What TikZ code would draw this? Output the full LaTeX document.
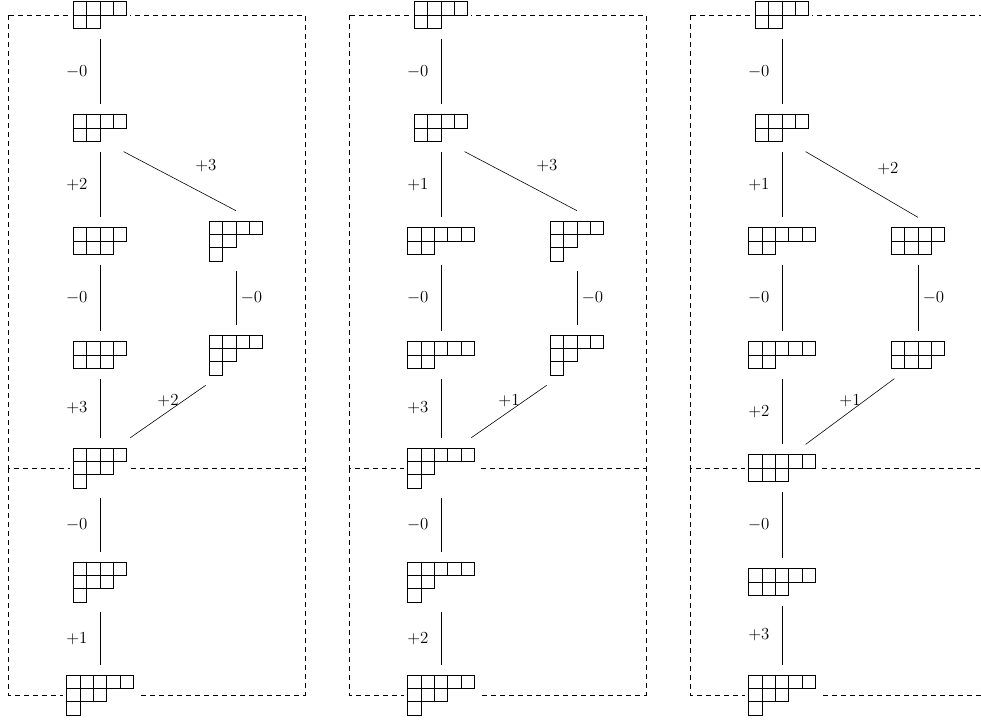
\documentclass[tikz,border=0pt]{standalone}
\usetikzlibrary{positioning}
% Young diagram from a list of row lengths
\newcommand{\ydiag}[1]{\tikz[x=0.4cm, y=-0.4cm, line width=0.5pt]{%
  \foreach \len [count=\row] in {#1} {%
    \foreach \col in {1,...,\len} {\draw (\col-1,\row-1) rectangle (\col,\row);}}}}

\begin{document}
\begin{tikzpicture}[x=0.03cm, y=-0.03cm,
  yd/.style={fill=white, inner sep=0.1cm, outer sep=0.2cm},
  frame/.style={draw, line width=0.5pt, dash pattern=on 0.15cm off 0.12cm},
  link/.style={draw, line width=0.5pt},
  lab/.style={font=\Large},
  labl/.style={lab, left=0.25cm},
  labr/.style={lab, right=0.02cm},
  labd/.style={lab, above right=0.16cm and 0.34cm},
  labu/.style={lab, above=0.02cm},
]
\useasboundingbox (0,0) rectangle (981,722);
\clip (0,0) rectangle (981,722);
% ---- dashed frames of the three panels
\draw[frame] (8,15) rectangle (305,468);
\draw[frame] (8,468) -- (8,695) -- (305,695) -- (305,468);
\draw[frame] (349,15) rectangle (646,468);
\draw[frame] (349,468) -- (349,695) -- (646,695) -- (646,468);
\draw[frame] (690,15) rectangle (987,468);
\draw[frame] (690,468) -- (690,695) -- (987,695) -- (987,468);
% ---- panel a
\node[yd] (a_top) at (100,15) {\ydiag{4,2}};
\node[yd] (a_mid) at (100,128) {\ydiag{4,2}};
\node[yd] (a_l2) at (100,241) {\ydiag{4,3}};
\node[yd] (a_r2) at (236,241) {\ydiag{4,2,1}};
\node[yd] (a_l3) at (100,355) {\ydiag{4,3}};
\node[yd] (a_r3) at (236,355) {\ydiag{4,2,1}};
\node[yd] (a_join) at (100,468) {\ydiag{4,3,1}};
\node[yd] (a_low) at (100,582) {\ydiag{4,3,1}};
\node[yd] (a_bot) at (100,695) {\ydiag{5,3,1}};
\draw[link] (a_top) -- node[labl] {$-0$} (a_mid);
\draw[link] (a_mid) -- node[labl] {$+2$} (a_l2);
\draw[link] (a_mid.-45) -- node[labd] {$+3$} (a_r2.north);
\draw[link] (a_l2) -- node[labl] {$-0$} (a_l3);
\draw[link] (a_r2) -- node[labr] {$-0$} (a_r3);
\draw[link] (a_l3) -- node[labl] {$+3$} (a_join);
\draw[link] (a_join.45) -- node[labu] {$+2$} (a_r3.-135);
\draw[link] (a_join) -- node[labl] {$-0$} (a_low);
\draw[link] (a_low) -- node[labl] {$+1$} (a_bot);
% ---- panel b
\node[yd] (b_top) at (441,15) {\ydiag{4,2}};
\node[yd] (b_mid) at (441,128) {\ydiag{4,2}};
\node[yd] (b_l2) at (441,241) {\ydiag{5,2}};
\node[yd] (b_r2) at (577,241) {\ydiag{4,2,1}};
\node[yd] (b_l3) at (441,355) {\ydiag{5,2}};
\node[yd] (b_r3) at (577,355) {\ydiag{4,2,1}};
\node[yd] (b_join) at (441,468) {\ydiag{5,2,1}};
\node[yd] (b_low) at (441,582) {\ydiag{5,2,1}};
\node[yd] (b_bot) at (441,695) {\ydiag{5,3,1}};
\draw[link] (b_top) -- node[labl] {$-0$} (b_mid);
\draw[link] (b_mid) -- node[labl] {$+1$} (b_l2);
\draw[link] (b_mid.-45) -- node[labd] {$+3$} (b_r2.north);
\draw[link] (b_l2) -- node[labl] {$-0$} (b_l3);
\draw[link] (b_r2) -- node[labr] {$-0$} (b_r3);
\draw[link] (b_l3) -- node[labl] {$+3$} (b_join);
\draw[link] (b_join.45) -- node[labu] {$+1$} (b_r3.-135);
\draw[link] (b_join) -- node[labl] {$-0$} (b_low);
\draw[link] (b_low) -- node[labl] {$+2$} (b_bot);
% ---- panel c
\node[yd] (c_top) at (782,15) {\ydiag{4,2}};
\node[yd] (c_mid) at (782,128) {\ydiag{4,2}};
\node[yd] (c_l2) at (782,241) {\ydiag{5,2}};
\node[yd] (c_r2) at (918,241) {\ydiag{4,3}};
\node[yd] (c_l3) at (782,355) {\ydiag{5,2}};
\node[yd] (c_r3) at (918,355) {\ydiag{4,3}};
\node[yd] (c_join) at (782,468) {\ydiag{5,3}};
\node[yd] (c_low) at (782,582) {\ydiag{5,3}};
\node[yd] (c_bot) at (782,695) {\ydiag{5,3,1}};
\draw[link] (c_top) -- node[labl] {$-0$} (c_mid);
\draw[link] (c_mid) -- node[labl] {$+1$} (c_l2);
\draw[link] (c_mid.-45) -- node[labd] {$+2$} (c_r2.north);
\draw[link] (c_l2) -- node[labl] {$-0$} (c_l3);
\draw[link] (c_r2) -- node[labr] {$-0$} (c_r3);
\draw[link] (c_l3) -- node[labl] {$+2$} (c_join);
\draw[link] (c_join.45) -- node[labu] {$+1$} (c_r3.-135);
\draw[link] (c_join) -- node[labl] {$-0$} (c_low);
\draw[link] (c_low) -- node[labl] {$+3$} (c_bot);
\end{tikzpicture}
\end{document}
